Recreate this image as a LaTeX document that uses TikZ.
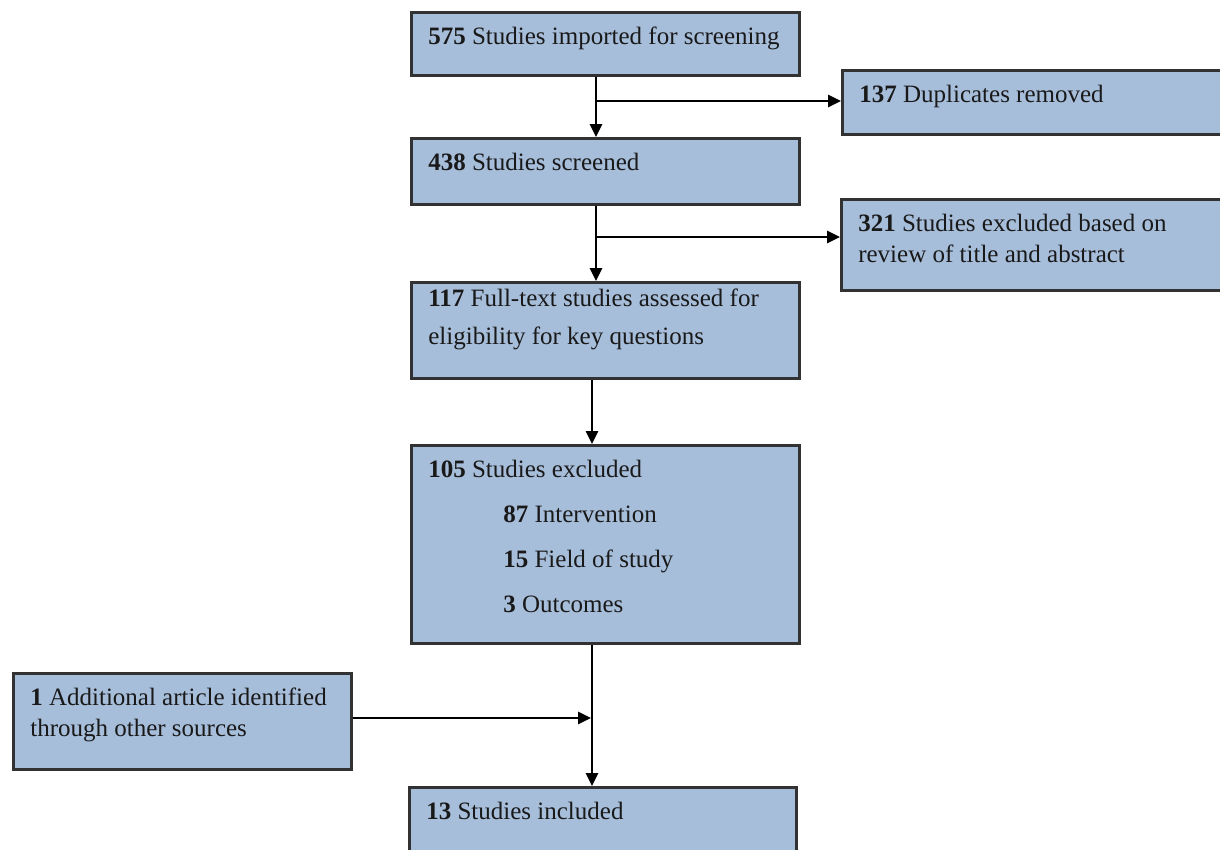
\documentclass[tikz,border=0pt]{standalone}
\usepackage{fontspec}
\setmainfont{Liberation Serif}
\usetikzlibrary{arrows.meta}
\definecolor{boxblue}{RGB}{167,190,219}
\definecolor{boxline}{RGB}{50,50,50}
\tikzset{
  stage/.style={draw=boxline, fill=boxblue, line width=2.6pt, anchor=north west,
    inner xsep=17pt, inner ysep=15pt, text=black!90},
  flow/.style={line width=2.8pt, -{Triangle[length=13pt,width=12pt]}},
}
\newcommand{\boxtext}[3]{\parbox[t][#1][t]{#2}{\raggedright #3}}

\begin{document}
\begin{tikzpicture}[x=1pt,y=-1pt,font=\fontsize{25}{31}\selectfont]
\useasboundingbox (0,0) rectangle (1220,849);

\node[stage] (imp) at (410,11) {\boxtext{33pt}{354pt}{\textbf{575} Studies imported for screening}};
\node[stage] (dup) at (841,69) {\boxtext{34pt}{360pt}{\textbf{137} Duplicates removed}};
\node[stage] (scr) at (410,137) {\boxtext{36pt}{354pt}{\textbf{438} Studies screened}};
\node[stage] (tia) at (840,198) {\boxtext{61pt}{361pt}{\textbf{321} Studies excluded based on\\ review of title and abstract}};
\node[stage, inner ysep=7pt] (full) at (410,281) {\boxtext{82pt}{354pt}{\textbf{117} Full-text studies assessed for\\[7pt] eligibility for key questions}};
\node[stage] (excl) at (410,444) {\boxtext{168pt}{354pt}{\textbf{105} Studies excluded\\[14pt]
  \hspace*{75pt}\textbf{87} Intervention\\[14pt]
  \hspace*{75pt}\textbf{15} Field of study\\[14pt]
  \hspace*{75pt}\textbf{3} Outcomes}};
\node[stage] (add) at (12,672) {\boxtext{66pt}{304pt}{\textbf{1} Additional article identified\\ through other sources}};
\node[stage] (incl) at (408,786) {\boxtext{50pt}{353pt}{\textbf{13} Studies included}};

\coordinate (j1) at (596,101);
\coordinate (j2) at (596,237);
\coordinate (j3) at (592,718);

\draw[flow] (imp.south -| j1) -- (scr.north -| j1);
\draw[flow] (j1) -- (dup.west |- j1);
\draw[flow] (scr.south -| j2) -- (full.north -| j2);
\draw[flow] (j2) -- (tia.west |- j2);
\draw[flow] (full.south -| j3) -- (excl.north -| j3);
\draw[flow] (excl.south -| j3) -- (incl.north -| j3);
\draw[flow] (add.east |- j3) -- ([xshift=-1pt]j3);

\end{tikzpicture}
\end{document}
